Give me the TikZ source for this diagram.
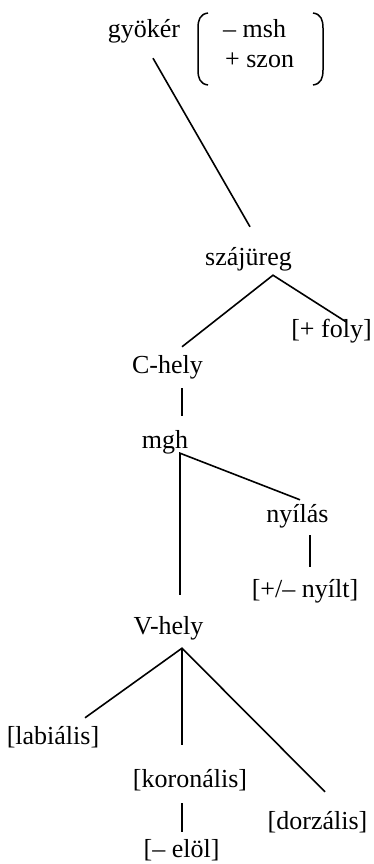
\documentclass[tikz,border=0pt]{standalone}
\usepackage{fontspec}
\setmainfont{Liberation Serif}

\begin{document}
\begin{tikzpicture}[x=1pt,y=-1pt,
    every node/.style={inner sep=0pt,anchor=base,text height=18pt,text depth=6pt,
        font=\fontsize{26}{30}\selectfont},
    branch/.style={black,line width=1.6pt}]
    \useasboundingbox (0,0) rectangle (374,864);

    % root with its feature matrix
    \node (gyoker) at (144,38) {gyökér};
    \node[anchor=base west] (msh) at (223,38) {– msh};
    \node[anchor=base west] (szon) at (225,68) {+ szon};
    \draw[black,line width=1.5pt] (208,13) .. controls (200,14) and (198,20) .. (198,28) -- (198,70) .. controls (198,78) and (200,84) .. (208,85);
    \draw[black,line width=1.5pt] (313,13) .. controls (321,14) and (323,20) .. (323,28) -- (323,70) .. controls (323,78) and (321,84) .. (313,85);

    \node (szajureg) at (248.5,265) {szájüreg};
    \node (foly) at (331.5,337) {[+ foly]};
    \node (chely) at (167.5,373) {C-hely};
    \node (mgh) at (165,448) {mgh};
    \node (nyilas) at (297.5,522) {nyílás};
    \node (nyilt) at (305,597) {[+/– nyílt]};
    \node (vhely) at (168.5,634) {V-hely};
    \node (labialis) at (53,744) {[labiális]};
    \node (koronalis) at (190,787) {[koronális]};
    \node (dorzalis) at (317.5,829) {[dorzális]};
    \node (elol) at (181.5,857) {[– elöl]};

    % root down to the oral cavity
    \draw[branch] ([xshift=9pt,yshift=-14pt]gyoker.south) -- ([xshift=1.5pt,yshift=20pt]szajureg.north);

    % oral cavity
    \draw[branch] ([xshift=14.5pt,yshift=8pt]chely.north) -- ([xshift=24.5pt,yshift=-4pt]szajureg.south) -- ([xshift=14.5pt,yshift=-3pt]foly.north);
    \draw[branch] ([xshift=14.5pt,yshift=-9pt]chely.south) -- ([xshift=17pt,yshift=14pt]mgh.north);

    % vowel node and aperture
    \draw[branch] ([xshift=11.5pt,yshift=21pt]vhely.north) -- ([xshift=15pt,yshift=1pt]mgh.south) -- ([xshift=2.5pt,yshift=4pt]nyilas.north);
    \draw[branch] ([xshift=12.5pt,yshift=-7pt]nyilas.south) -- ([xshift=5pt,yshift=12pt]nyilt.north);

    % places under V-place
    \draw[branch] ([xshift=32pt,yshift=8pt]labialis.north) -- ([xshift=13.5pt,yshift=-8pt]vhely.south) -- ([xshift=7.5pt,yshift=19pt]dorzalis.north);
    \draw[branch] ([xshift=13.5pt,yshift=-8pt]vhely.south) -- ([xshift=-8pt,yshift=24pt]koronalis.north);
    \draw[branch] ([xshift=-8pt,yshift=-10pt]koronalis.south) -- ([xshift=0.5pt,yshift=7pt]elol.north);
\end{tikzpicture}
\end{document}
